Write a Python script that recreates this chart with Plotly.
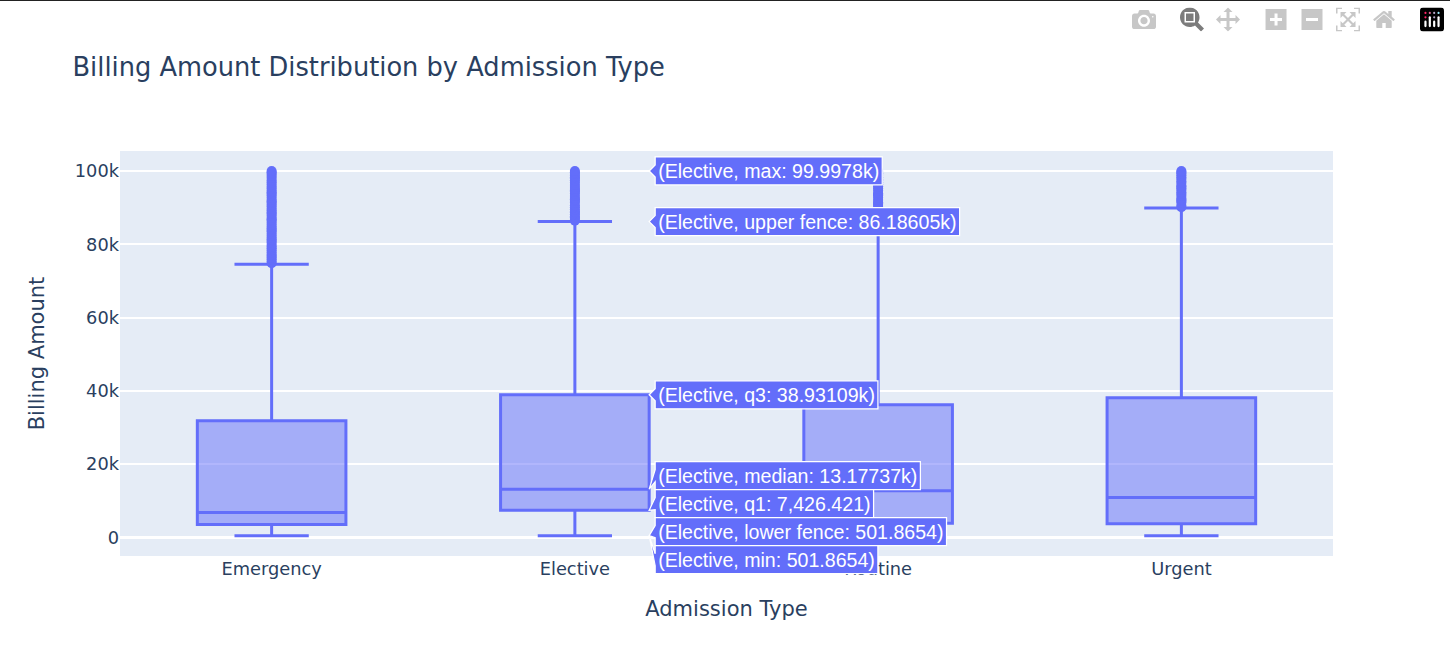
import plotly.graph_objects as go

categories = ["Emergency", "Elective", "Routine", "Urgent"]
lower_fence = [503.2, 501.8654, 512.4, 506.7]
q1_values = [3520.0, 7426.421, 3890.0, 3780.0]
median_values = [6830.0, 13177.37, 12720.0, 10890.0]
q3_values = [31850.0, 38931.09, 36210.0, 38120.0]
upper_fence = [74520.0, 86186.05, 86000.0, 89880.0]

emergency_outliers = [74810, 75300, 75900, 76300, 76800, 77200, 77800, 78400, 78900, 79300, 79800, 80400,
                      80900, 81300, 81800, 82300, 82900, 83500, 83900, 84300, 84800, 85300, 85900, 86400,
                      86800, 87200, 87800, 88300, 88700, 89200, 89700, 90300, 90800, 91300, 91700, 92100,
                      92700, 93300, 93800, 94200, 94600, 95200, 95700, 96300, 96900, 97400, 98100, 98600,
                      99200, 99600, 99991]
elective_outliers = [86420, 86900, 87300, 87600, 88200, 88700, 88900, 89500, 90100, 90600, 91300, 91800,
                     92200, 92600, 93200, 93800, 94300, 94700, 95100, 95600, 96200, 96800, 97400, 97900,
                     98300, 98700, 99200, 99600, 99997.8]
routine_outliers = [86300, 86800, 87200, 87700, 88300, 88800, 89000, 89600, 90200, 90700, 91100, 91500,
                    92100, 92700, 93300, 93600, 93900, 94600, 95200, 95800, 96400, 96900, 97300, 97700,
                    98300, 98900, 99400, 99700, 99985]
urgent_outliers = [90100, 90500, 91300, 91800, 92100, 92500, 93200, 93700, 94200, 94800, 95300, 95700,
                   96000, 96700, 97200, 97800, 98300, 98800, 99300, 99700, 99989]
outlier_samples = [emergency_outliers, elective_outliers, routine_outliers, urgent_outliers]

title_text = "Billing Amount Distribution by Admission Type"
x_title = "Admission Type"
y_title = "Billing Amount"
WIDE = "DejaVu Sans"
COLOR = "#636efa"
TEXT = "#2a3f5f"

fig = go.Figure(go.Box(
    x=categories,
    y=outlier_samples,
    q1=q1_values,
    median=median_values,
    q3=q3_values,
    lowerfence=lower_fence,
    upperfence=upper_fence,
    boxpoints="outliers",
    marker=dict(color=COLOR, size=10),
    line=dict(color=COLOR, width=3),
))

fig.update_layout(
    width=1450, height=660, autosize=False,
    margin=dict(l=120, r=117, t=151, b=104),
    boxmode="group",
    hovermode="closest",
    showlegend=False,
    template="plotly",
    paper_bgcolor="white",
    plot_bgcolor="#e5ecf6",
    font=dict(family=WIDE, color=TEXT),
    title=dict(text=title_text, x=0.05, xanchor="left", y=0.898, yanchor="middle",
               font=dict(family=WIDE, size=25.7, color=TEXT)),
    hoverlabel=dict(font=dict(family="Liberation Sans", size=19.6, color="white"),
                    bordercolor="white", bgcolor=COLOR),
    shapes=[dict(type="line", xref="paper", yref="paper",
                 x0=-0.1, x1=1.1, y0=555.5 / 405, y1=555.5 / 405,
                 line=dict(color="#222222", width=1))],
)
fig.update_xaxes(title=dict(text=x_title, font=dict(size=21), standoff=23),
                 tickfont=dict(size=17.8), automargin=False, ticks="",
                 showgrid=False, categoryorder="array", categoryarray=categories)
fig.update_yaxes(title=dict(text=y_title, font=dict(size=21), standoff=24),
                 tickfont=dict(size=17.8), automargin=False, ticks="",
                 range=[-5050, 105450], tick0=0, dtick=20000,
                 gridcolor="white", gridwidth=1.5, zeroline=True, zerolinecolor="white", zerolinewidth=2.5)

post = """
document.body.style.margin='0';
document.documentElement.style.overflow='hidden';
var st=document.createElement('style');
st.textContent='.hoverlayer .hovertext path{stroke-width:1.25px !important;}';
document.head.appendChild(st);
var gd=document.getElementById('{plot_id}');
function go(){
  var m=document.querySelector('.modebar');
  if(m){m.style.transform='scale(1.5)';m.style.transformOrigin='top right';m.style.right='0px';m.style.top='3px';}
  Plotly.Fx.hover(gd,{xval:1,yval:20000},'xy');
}
setTimeout(go,150);
"""
fig.write_html("out.html", config={"displayModeBar": True, "displaylogo": True}, post_script=post)
